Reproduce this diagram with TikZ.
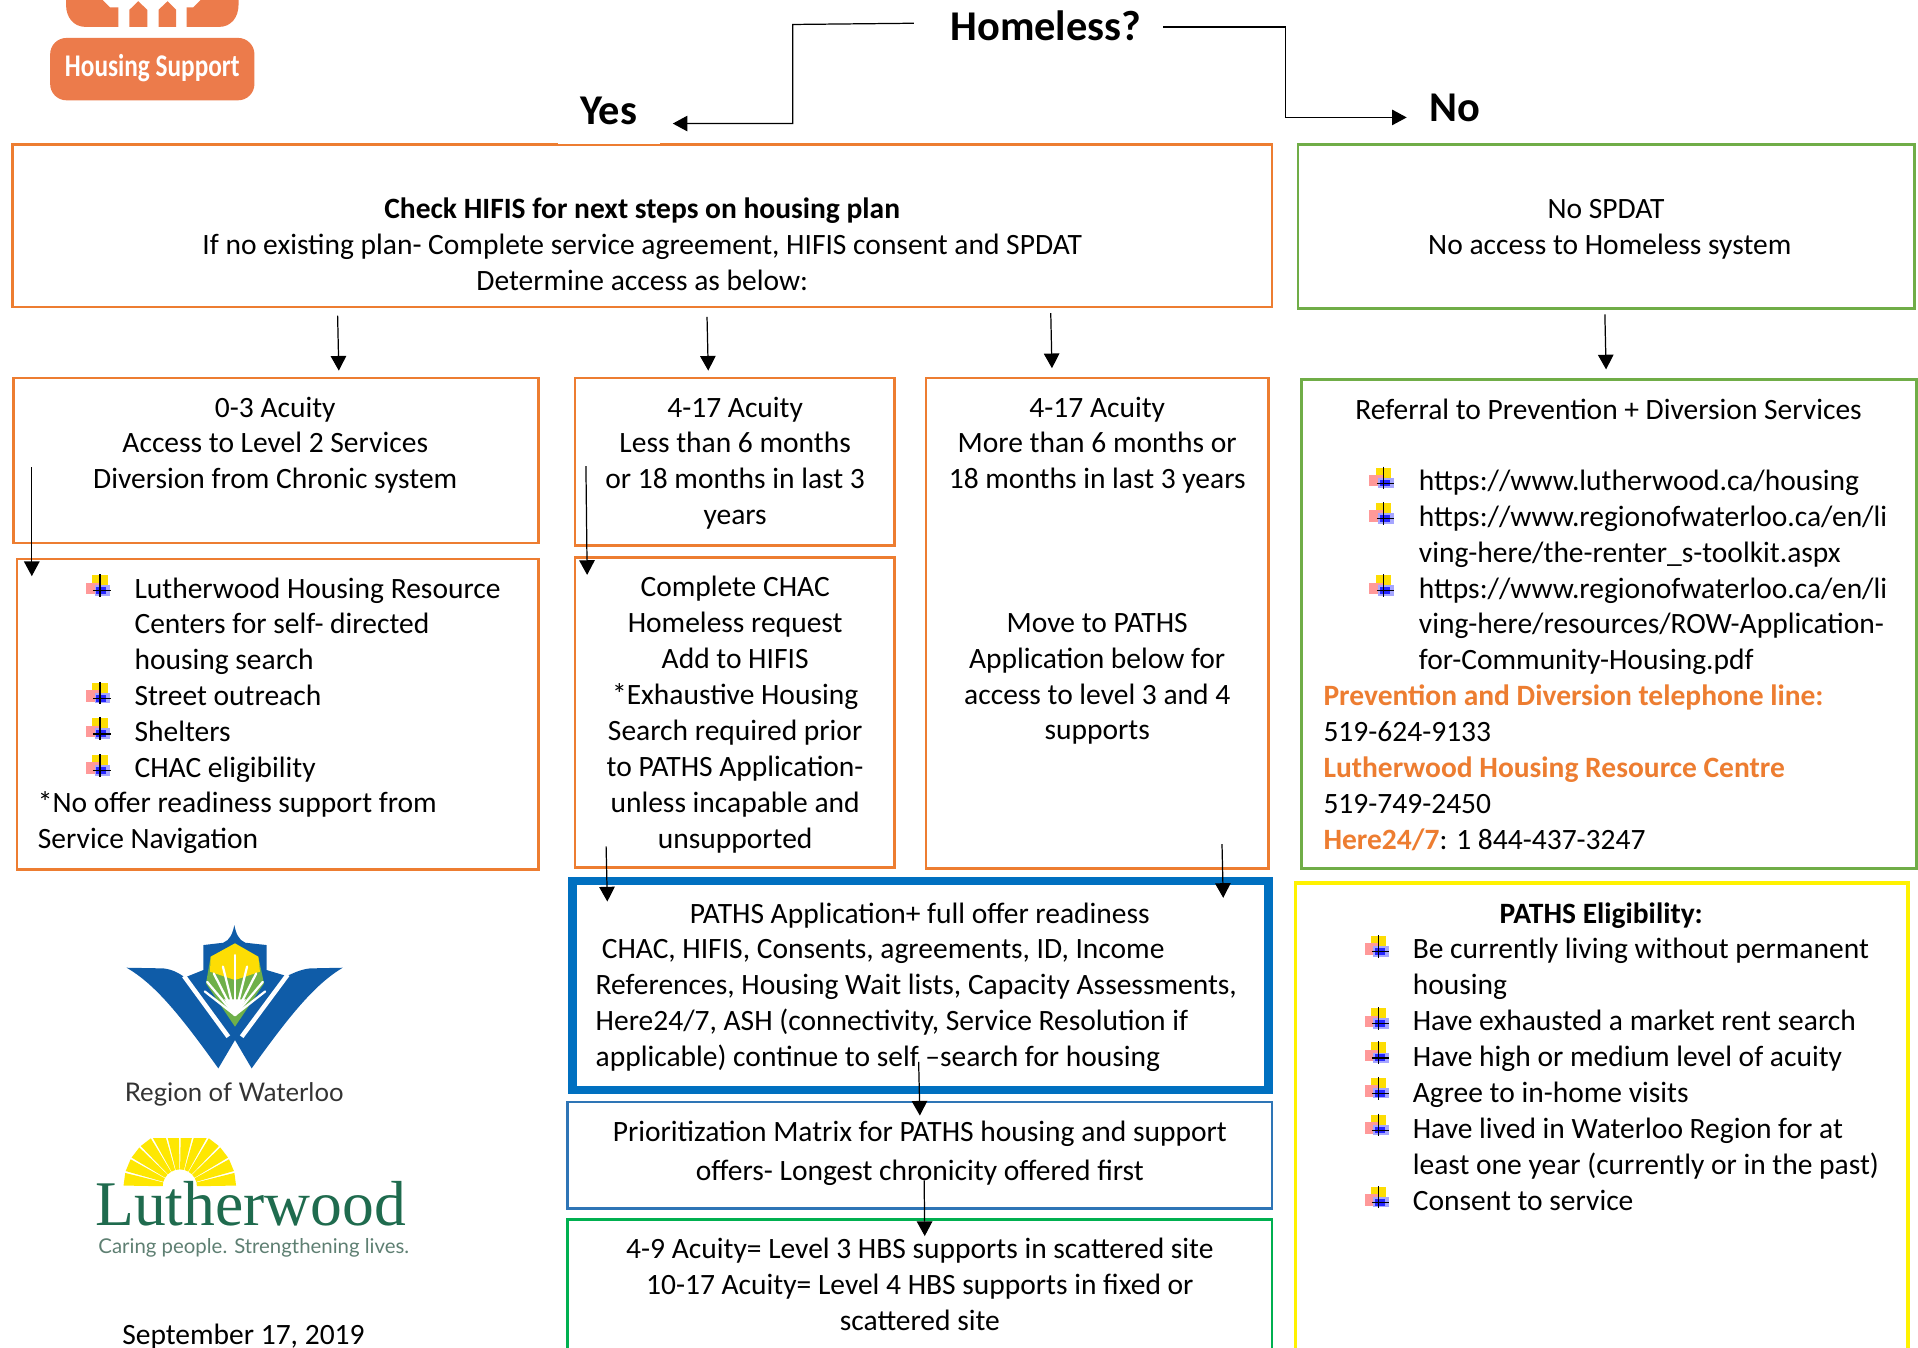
\documentclass[tikz,border=0pt]{standalone}
\usepackage{fontspec}
\setmainfont{Carlito}
\newfontfamily\rowfont{Lato}
\newfontfamily\lwfont{Liberation Serif}
\usetikzlibrary{arrows.meta}
\definecolor{orng}{HTML}{ED7D31}
\definecolor{logoor}{HTML}{EC7B4B}
\definecolor{grn}{HTML}{70AD47}
\definecolor{grnb}{HTML}{00B050}
\definecolor{blu}{HTML}{0070C0}
\definecolor{blub}{HTML}{2E75B6}
\definecolor{wblue}{HTML}{0F5CA8}
\definecolor{lwgreen}{HTML}{1F6B4E}
\definecolor{lwgrey}{HTML}{5E7F72}
\definecolor{leafgreen}{HTML}{6FB04A}
\tikzset{
  boxbase/.style={draw,rectangle,inner sep=0pt,outer sep=0pt},
  orbox/.style={boxbase,draw=orng,line width=1.3pt},
  grbox/.style={boxbase,draw=grn,line width=1.3pt},
  arr/.style={line width=0.6pt,black,-{Triangle[length=7.2pt,width=7.6pt]}},
  body/.style={inner sep=0pt,outer sep=0pt,font=\fontsize{14.47}{17.6}\selectfont},
  head/.style={inner sep=0pt,font=\fontsize{20.8}{24}\selectfont\bfseries},
}
\newcommand{\boxnode}[6]{%
  \pgfmathsetmacro\bw{(#4-#2)*0.6}\pgfmathsetmacro\bh{(#5-#3)*0.6}%
  \node[#6,minimum width=\bw pt,minimum height=\bh pt,anchor=north west] (#1) at (#2,#3) {};}
% left-aligned text block: name, left x, y of first line centre, text
\newcommand{\txt}[4]{%
  \pgfmathsetmacro\ty{#3-12.6}%
  \node[body,anchor=north west,align=left] (#1) at (#2,\ty) {\strut #4};}
\newcommand{\ctxt}[4]{%
  \pgfmathsetmacro\ty{#3-12.6}%
  \node[body,anchor=north,align=center] (#1) at (#2,\ty) {\strut #4};}
\newcommand{\hbul}[2]{%
  \begin{scope}[shift={(#1,#2)}]
    \fill[yellow!80!orange] (-6.3,-12.8) rectangle (6.3,0);
    \fill[red!40] (-11.5,-6.8) rectangle (0,2.7);
    \fill[blue!35] (-4.5,-4.5) rectangle (8.2,4);
    \fill[blue!85] (-3,-3) rectangle (5,2.5);
    \draw[line width=0.6pt] (0,-13.6) -- (0,4.9) (-5.5,0) -- (8.7,0);
  \end{scope}}
\begin{document}
\begin{tikzpicture}[x=0.6pt,y=-0.6pt]
\useasboundingbox (0,0) rectangle (1568,1102);
\clip (0,0) rectangle (1568,1102);

% Housing Support logo
\fill[logoor] (54,0) -- (84,0) -- (90,6) -- (96.7,6) -- (96.7,22) -- (70,22) .. controls (60,22) and (54,14) .. (54,4) -- cycle;
\fill[logoor] (105.8,22) -- (105.8,8) -- (113,1) -- (120.4,8) -- (120.4,22) -- cycle;
\fill[logoor] (129.6,22) -- (129.6,8) -- (137,1) -- (144,8) -- (144,22) -- cycle;
\fill[logoor] (195,0) -- (164,0) -- (158,6) -- (152.5,6) -- (152.5,22) -- (179,22) .. controls (189,22) and (195,14) .. (195,4) -- cycle;
\node[rectangle,rounded corners=8pt,fill=logoor,text=white,minimum width=100.2pt,minimum height=30.6pt,inner sep=0pt] (hslogo) at (124.5,56.5) {};
\node[inner sep=0pt,text=white,font=\fontsize{15.5}{18}\selectfont\bfseries,xscale=0.8] (hstext) at (124.5,56) {Housing Support};

% Boxes
\boxnode{bigor}{10}{118}{1040}{251}{orbox}
\boxnode{grtop}{1061}{118}{1565}{252}{grbox}
\boxnode{boxA}{11}{309}{440}{444}{orbox}
\boxnode{boxB}{470}{309}{731}{446}{orbox}
\boxnode{boxC}{757}{309}{1037}{710}{orbox}
\boxnode{boxD}{14}{457}{440}{711}{orbox}
\boxnode{boxE}{470}{456}{731}{709}{orbox}
\boxnode{grref}{1064}{310}{1567}{710}{grbox}
\boxnode{paths}{468}{720}{1037}{891}{boxbase,draw=blu,line width=4pt}
\boxnode{prio}{464}{901}{1040}{988}{boxbase,draw=blub,line width=1.3pt}
\boxnode{hbs}{464}{997}{1040}{1120}{boxbase,draw=grnb,line width=1.3pt}
\boxnode{elig}{1059}{722}{1560}{1120}{boxbase,draw=yellow,line width=1.8pt}

% Headings
\node[head] (homeless) at (855,21) {Homeless?};
\node[head,fill=white,minimum width=50pt,minimum height=32.2pt] (yes) at (497.5,91) {Yes};
\node[head] (no) at (1189,88) {No};

% Text
\ctxt{t1}{525}{170.5}{\textbf{Check HIFIS for next steps on housing plan}\\If no existing plan- Complete service agreement, HIFIS consent and SPDAT\\Determine access as below:}
\ctxt{t2a}{1313}{171}{No SPDAT}
\ctxt{t2b}{1316}{200.5}{No access to Homeless system}
\ctxt{tA}{225}{333}{0-3 Acuity\\Access to Level 2 Services\\Diversion from Chronic system}
\ctxt{tB}{601}{333}{4-17 Acuity\\Less than 6 months\\or 18 months in last 3\\years}
\ctxt{tC1}{897}{333}{4-17 Acuity\\More than 6 months or\\18 months in last 3 years}
\ctxt{tC2}{897}{509}{Move to PATHS\\Application below for\\access to level 3 and 4\\supports}
\txt{tD1}{110}{481}{Lutherwood Housing Resource\\Centers for self- directed\\housing search\\Street outreach\\Shelters\\CHAC eligibility}
\txt{tD2}{31}{656.5}{*No offer readiness support from\\Service Navigation}
\ctxt{tE}{601}{480}{Complete CHAC\\Homeless request\\Add to HIFIS\\*Exhaustive Housing\\Search required prior\\to PATHS Application-\\unless incapable and\\unsupported}
\ctxt{tR1}{1315}{335}{Referral to Prevention + Diversion Services}
\txt{tR2}{1160}{393}{https://www.lutherwood.ca/housing\\https://www.regionofwaterloo.ca/en/li\\ving-here/the-renter\_s-toolkit.aspx\\https://www.regionofwaterloo.ca/en/li\\ving-here/resources/ROW-Application-\\for-Community-Housing.pdf}
\txt{tR3}{1082}{569}{\textcolor{orng}{\textbf{Prevention and Diversion telephone line:}}\\519-624-9133\\\textcolor{orng}{\textbf{Lutherwood Housing Resource Centre}}\\519-749-2450\\\textcolor{orng}{\textbf{Here24/7}}: 1 844-437-3247}
\ctxt{tP1}{752}{747}{PATHS Application+ full offer readiness}
\txt{tP2}{492}{776}{CHAC, HIFIS, Consents, agreements, ID, Income}
\txt{tP3}{487}{805}{References, Housing Wait lists, Capacity Assessments,\\Here24/7, ASH (connectivity, Service Resolution if\\applicable) continue to self –search for housing}
\ctxt{tQ1}{752}{925}{Prioritization Matrix for PATHS housing and support}
\ctxt{tQ2}{752}{957}{offers- Longest chronicity offered first}
\ctxt{tH}{752}{1021}{4-9 Acuity= Level 3 HBS supports in scattered site\\10-17 Acuity= Level 4 HBS supports in fixed or\\scattered site}
\ctxt{tY1}{1309}{747}{\textbf{PATHS Eligibility:}}
\txt{tY2}{1155}{776}{Be currently living without permanent\\housing\\Have exhausted a market rent search\\Have high or medium level of acuity\\Agree to in-home visits\\Have lived in Waterloo Region for at\\least one year (currently or in the past)\\Consent to service}
\node[body,anchor=base] (tDate) at (199,1099.5) {September 17, 2019};

% Bullets
\hbul{81.8}{483}\hbul{81.8}{571}\hbul{81.8}{600}\hbul{81.8}{630}
\hbul{1131}{395}\hbul{1131}{424}\hbul{1131}{483}
\hbul{1127}{778}\hbul{1127}{837}\hbul{1127}{865}\hbul{1127}{894}\hbul{1127}{924}\hbul{1127}{983}

% Connectors
\coordinate (hL) at (747,19);\coordinate (hLa) at (648,20);\coordinate (hLb) at (648,101);\coordinate (yesT) at (550,101);
\coordinate (hR) at (951,22);\coordinate (hRa) at (1051,22);\coordinate (hRb) at (1051,96);\coordinate (noT) at (1150,96);
\draw[arr] (hL) -- (hLa) -- (hLb) -- (yesT);
\draw[arr] (hR) -- (hRa) -- (hRb) -- (noT);
\coordinate (a1) at (276,258);\coordinate (a1t) at (277,303);
\coordinate (a2) at (578,259);\coordinate (a2t) at (579,303);
\coordinate (a3) at (859,256);\coordinate (a3t) at (860,301);
\coordinate (a4) at (1312,257);\coordinate (a4t) at (1313,302);
\coordinate (a5) at (26,382);\coordinate (a5t) at (26,471);
\coordinate (a6) at (479,381);\coordinate (a6t) at (480,470);
\coordinate (a7) at (495.5,692);\coordinate (a7t) at (496.5,737);
\coordinate (a8) at (999,690);\coordinate (a8t) at (1000,734);
\coordinate (a9) at (751,868);\coordinate (a9t) at (752,912);
\coordinate (a10) at (755.5,965);\coordinate (a10t) at (756,1010.5);
\foreach \n in {a1,a2,a3,a4,a5,a6,a7,a8,a9,a10} \draw[arr] (\n) -- (\n t);

% Region of Waterloo logo (drawn in zoomed pixel units)
\begin{scope}[shift={(49.05,735.8)},x=0.1635pt,y=-0.1635pt]
  \fill[wblue] (200,203) -- (310,205) .. controls (340,208) and (360,222) .. (375,232)
     -- (430,210) -- (430,135) -- (490,128) .. controls (510,120) and (518,100) .. (523,75)
     .. controls (528,100) and (536,120) .. (556,128) -- (620,135) -- (620,210) -- (680,228)
     .. controls (695,222) and (720,208) .. (750,205) -- (848,203)
     .. controls (770,250) and (700,330) .. (575,505) -- (525,420) -- (475,505)
     .. controls (350,330) and (280,250) .. (200,203) -- cycle;
  \draw[white,line width=2.2pt] (372,228) -- (505,410) (683,224) -- (545,410);
  \fill[leafgreen] (525,130) -- (595,170) -- (612,250) -- (525,380) -- (438,250) -- (452,170) -- cycle;
  \fill[yellow!80!orange] (525,130) -- (595,170) -- (600,215) -- (525,240) -- (450,215) -- (452,170) -- cycle;
  \foreach \a/\r in {-52/115,-40/130,-27/140,-14/150,0/180,14/150,27/140,40/130,52/115}
    \draw[white,line width=1.1pt,line cap=round] (525,345) -- ++({90-\a}:{-\r});
  \fill[white] (525,348) -- (492,298) -- (558,298) -- cycle;
\end{scope}
\node[inner sep=0pt,font=\rowfont\fontsize{12.6}{15}\selectfont,text=black!80] (rowtext) at (191.5,895) {Region of Waterloo};

% Lutherwood logo
\begin{scope}
  \clip (100,931) rectangle (200,970);
  \foreach \a in {0,15,...,165}
    \fill[yellow!90!orange]
      ({147+14*cos(\a+1)},{970-14*sin(\a+1)}) -- ({147+46*cos(\a+1)},{970-46*sin(\a+1)})
      -- ({147+46*cos(\a+14)},{970-46*sin(\a+14)}) -- ({147+14*cos(\a+14)},{970-14*sin(\a+14)}) -- cycle;
\end{scope}
\node[inner sep=0pt,font=\lwfont\fontsize{31.2}{36}\selectfont,text=lwgreen] (lwtext) at (205,984) {Lutherwood};
\node[inner sep=0pt,font=\rowfont\fontsize{10}{11}\selectfont,text=lwgrey] (lwtag) at (207.5,1020) {Caring people. Strengthening lives.};
\end{tikzpicture}
\end{document}
